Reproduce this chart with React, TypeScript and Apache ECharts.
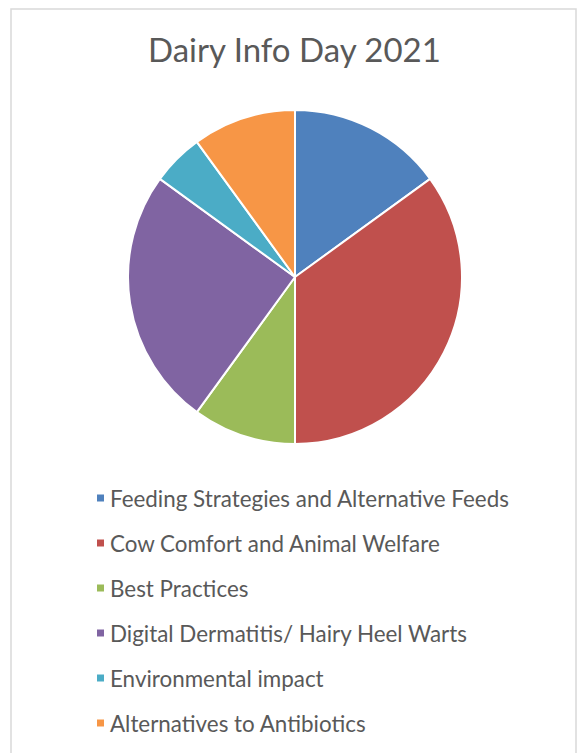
import React, { useEffect, useRef } from "react";
import * as echarts from "echarts";

const categories = [
  "Feeding Strategies and Alternative Feeds",
  "Cow Comfort and Animal Welfare",
  "Best Practices",
  "Digital Dermatitis/ Hairy Heel Warts",
  "Environmental impact",
  "Alternatives to Antibiotics",
];
const values = [15, 35, 10, 25, 5, 10];
const colors = ["#4F81BD", "#C0504D", "#9BBB59", "#8064A2", "#4BACC6", "#F79646"];
const titleText = "Dairy Info Day 2021";

export default function App() {
  const ref = useRef<HTMLDivElement>(null);
  useEffect(() => {
    if (!ref.current) return;
    const chart = echarts.init(ref.current, undefined, { renderer: "svg" });
    chart.setOption({
      animation: false,
      backgroundColor: "#ffffff",
      color: colors,
      title: {
        text: titleText,
        left: 148,
        top: 32,
        padding: 0,
        textStyle: {
          fontFamily: "Lato",
          fontSize: 33,
          fontWeight: "normal",
          color: "#595959",
        },
      },
      legend: {
        orient: "vertical",
        left: 95,
        top: 486,
        padding: 0,
        icon: "rect",
        itemWidth: 9,
        itemHeight: 9,
        itemGap: 21,
        itemTextGap: 9,
        data: categories,
        textStyle: {
          fontFamily: "Lato",
          fontSize: 22.4,
          lineHeight: 24,
          color: "#595959",
        },
      },
      graphic: [
        {
          type: "rect",
          shape: { x: 11, y: 9, width: 565, height: 780 },
          style: { fill: "none", stroke: "#d9d9d9", lineWidth: 1.5 },
          silent: true,
        },
      ],
      series: [
        {
          type: "pie",
          center: [295, 277],
          radius: 167,
          startAngle: 90,
          clockwise: true,
          label: { show: false },
          labelLine: { show: false },
          itemStyle: { borderColor: "#ffffff", borderWidth: 2 },
          data: categories.map((name, i) => ({ name, value: values[i] })),
        },
      ],
    });
    return () => chart.dispose();
  }, []);
  return (
    <div
      ref={ref}
      style={{ position: "fixed", left: 0, top: 0, width: 578, height: 753 }}
    />
  );
}
